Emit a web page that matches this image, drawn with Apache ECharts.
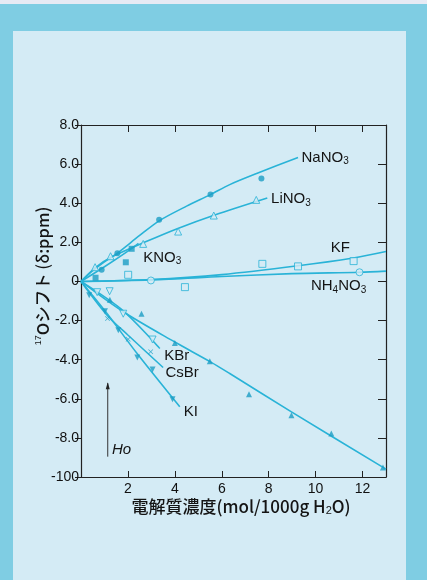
<!DOCTYPE html>
<html><head><meta charset="utf-8">
<script src="https://cdn.jsdelivr.net/npm/echarts@6/dist/echarts.min.js"></script>
<style>html,body{margin:0;padding:0;background:#7fcde3}#c{width:427px;height:580px}</style>
</head><body><div id="c"></div>
<script>
// ---- data ----
const xTicks = [2, 4, 6, 8, 10, 12];
const yTickVals = [8, 6, 4, 2, 0, -2, -4, -6, -8, -10];
const yTickLabels = ['8.0', '6.0', '4.0', '2.0', '0', '-2.0', '-4.0', '-6.0', '-8.0', '-100'];

// measured points
const naNO3Pts = [[0.88, 0.6], [1.55, 1.44], [3.33, 3.15], [5.52, 4.44], [7.69, 5.27]];
const liNO3Pts = [[0.6, 0.73], [1.26, 1.29], [2.65, 1.92], [4.14, 2.55], [5.66, 3.37], [7.47, 4.17]];
const kNO3Pts = [[0.62, 0.19], [1.91, 0.98], [2.16, 1.67]];
const kfPts = [[2.01, 0.34], [4.43, -0.29], [7.73, 0.9], [9.25, 0.77], [11.62, 1.04]];
const nh4NO3Pts = [[2.98, 0.05], [11.87, 0.47]];
const kBrPts = [[0.69, -0.55], [1.22, -0.5], [1.8, -1.65], [3.05, -2.97]];
const csBrPts = [[1.13, -1.9], [2.01, -2.96], [2.97, -3.6]];
const kIPts = [[0.35, -0.71], [1.02, -1.53], [1.59, -2.5], [2.4, -3.89], [3.05, -4.5], [3.9, -6.02]];
const otherPts = [[1.23, -0.93], [2.58, -1.65], [4.0, -3.15], [5.49, -4.08], [7.16, -5.77], [8.97, -6.84], [10.67, -7.77], [12.87, -9.52]];

// fitted curves
const naNO3Line = [[0, 0], [0.5, 0.55], [1, 1.0], [1.55, 1.45], [2.5, 2.35], [3.33, 3.1], [4.5, 3.85], [5.52, 4.44], [6.34, 4.95], [7.62, 5.58], [9.25, 6.34]];
const liNO3Line = [[0, 0], [0.6, 0.7], [1.3, 1.25], [2.7, 2.0], [4.1, 2.7], [5.7, 3.4], [7.94, 4.27]];
const kNO3Line = [[0, 0], [1, 0.75], [2, 1.55], [2.45, 1.95]];
const kfLine = [[0, 0], [3, 0.1], [6, 0.35], [9.25, 0.8], [11.6, 1.2], [13, 1.53]];
const nh4NO3Line = [[0, 0], [3, 0.08], [6, 0.25], [9, 0.4], [11.87, 0.47], [13, 0.53]];
const kBrLine = [[0, 0], [1.8, -1.5], [3.36, -3.43]];
const csBrLine = [[0, 0], [1.13, -1.75], [2.01, -2.75], [3.5, -4.4]];
const kILine = [[0, 0], [1.02, -1.5], [2.4, -3.7], [4.21, -6.41]];
const otherLine = [[0, 0], [1.8, -1.55], [4.0, -3.1], [5.5, -4.1], [6.34, -4.71], [8.97, -6.67], [13, -9.6]];

// labels
const labelNames = ['NaNO{s|3}', 'LiNO{s|3}', 'KNO{s|3}', 'KF', 'NH{s|4}NO{s|3}', 'KBr', 'CsBr', 'KI'];
const labelPos = [[9.4, 6.3], [8.1, 4.2], [2.65, 1.2], [10.65, 1.7], [9.8, -0.25], [3.55, -3.8], [3.6, -4.65], [4.38, -6.65]];

// ---- styles ----
const LINE = '#29b3d7';
const MARK = '#1b9dc4';
const BG = '#d4ebf5';
const downTri = 'path://M0,0 L10,0 L5,9 Z';
const crossSym = 'path://M0,1 L1,0 L5,4 L9,0 L10,1 L6,5 L10,9 L9,10 L5,6 L1,10 L0,9 L4,5 Z';

function lineSeries(data) {
  return { type: 'line', data: data, smooth: 0.3, showSymbol: false, silent: true,
    lineStyle: { color: LINE, width: 1.6 }, z: 2 };
}
function ptSeries(data, symbol, size, hollow) {
  return { type: 'scatter', data: data, symbol: symbol, symbolSize: size, silent: true, z: 3,
    itemStyle: hollow ? { color: BG, borderColor: LINE, borderWidth: 1 } : { color: MARK } };
}
function axLine() { return { show: true, onZero: false, lineStyle: { color: '#222', width: 1.2 } }; }

const chart = echarts.init(document.getElementById('c'), null, { renderer: 'canvas' });
const option = {
  backgroundColor: '#7fcde3',
  animation: false,
  grid: { left: 81, top: 125, right: 41, bottom: 103 },
  xAxis: [
    { type: 'value', min: 0, max: 13, interval: 2, position: 'bottom',
      axisLine: axLine(), splitLine: { show: false },
      axisTick: { show: true, inside: true, length: 6, lineStyle: { color: '#222' } },
      axisLabel: { showMinLabel: false, showMaxLabel: false, color: '#111', fontSize: 14,
        fontFamily: 'Liberation Sans, Arial', margin: 5,
        formatter: v => (xTicks.indexOf(v) >= 0 ? String(v) : '') } },
    { type: 'value', min: 0, max: 13, interval: 2, position: 'top',
      axisLine: axLine(), splitLine: { show: false },
      axisTick: { show: true, inside: true, length: 7, lineStyle: { color: '#222' } },
      axisLabel: { show: false } }
  ],
  yAxis: [
    { type: 'value', min: -10, max: 8, interval: 2, position: 'left',
      axisLine: axLine(), splitLine: { show: false },
      axisTick: { show: true, inside: false, length: 6, lineStyle: { color: '#222' } },
      axisLabel: { color: '#111', fontSize: 14, fontFamily: 'Liberation Sans, Arial', margin: 2,
        formatter: v => { const i = yTickVals.indexOf(v); return i >= 0 ? yTickLabels[i] : ''; } } },
    { type: 'value', min: -10, max: 8, interval: 2, position: 'right',
      axisLine: axLine(), splitLine: { show: false },
      axisTick: { show: true, inside: true, length: 8, lineStyle: { color: '#222' } },
      axisLabel: { show: false } }
  ],
  series: [
    lineSeries(naNO3Line), lineSeries(liNO3Line), lineSeries(kNO3Line), lineSeries(kfLine),
    lineSeries(nh4NO3Line), lineSeries(kBrLine), lineSeries(csBrLine), lineSeries(kILine), lineSeries(otherLine),
    ptSeries(naNO3Pts, 'circle', 6, false),
    ptSeries(liNO3Pts, 'triangle', 7, true),
    ptSeries(kNO3Pts, 'rect', 6, false),
    ptSeries(kfPts, 'rect', 7, true),
    ptSeries(nh4NO3Pts, 'circle', 7, true),
    ptSeries(kBrPts, downTri, 7, true),
    ptSeries(csBrPts, crossSym, 5, false),
    ptSeries(kIPts, downTri, 6, false),
    ptSeries(otherPts, 'triangle', 6, false)
  ]
};
chart.setOption(option);

const P = (x, y) => chart.convertToPixel({ xAxisIndex: 0, yAxisIndex: 0 }, [x, y]);
const lblRich = {
  a: { fontSize: 15, fontFamily: 'Liberation Sans, Arial', fill: '#141414' },
  s: { fontSize: 10, fontFamily: 'Liberation Sans, Arial', fill: '#141414', padding: [7, 0, 0, 0] }
};
const graphics = [
  { type: 'rect', shape: { x: 0, y: 0, width: 427, height: 4 }, style: { fill: '#e7eaf4' }, z: -10, silent: true },
  { type: 'rect', shape: { x: 13, y: 31, width: 393, height: 549 }, style: { fill: BG }, z: -10, silent: true }
];
labelNames.forEach((t, i) => {
  const p = P(labelPos[i][0], labelPos[i][1]);
  const txt = t.replace(/^([^{]+)/, '{a|$1}').replace(/\}([A-Za-z]+)/g, '}{a|$1}');
  graphics.push({ type: 'text', x: p[0], y: p[1], silent: true, z: 10,
    style: { text: txt, rich: lblRich, verticalAlign: 'middle', align: 'left' } });
});
// Ho arrow
const a0 = P(1.14, -8.96), a1 = P(1.14, -5.2);
graphics.push({ type: 'line', shape: { x1: a0[0], y1: a0[1], x2: a1[0], y2: a1[1] }, style: { stroke: '#333', lineWidth: 1 }, z: 10, silent: true });
graphics.push({ type: 'polygon', shape: { points: [[a1[0] - 2, a1[1] + 6], [a1[0] + 2, a1[1] + 6], [a1[0], a1[1] - 1]] }, style: { fill: '#222' }, z: 10, silent: true });
const hp = P(1.32, -8.6);
graphics.push({ type: 'text', x: hp[0], y: hp[1], silent: true, z: 10,
  style: { text: 'Ho', font: 'italic 15px "Liberation Sans", Arial', fill: '#141414', verticalAlign: 'middle' } });
// axis titles
graphics.push({ type: 'text', x: 241, y: 507, silent: true, z: 10,
  style: { text: '電解質濃度(mol/1000g H{s|2}O)'.replace(/^([^{]+)/, '{t|$1}').replace(/\}([^{]+)$/, '}{t|$1}'),
    rich: { t: { fontSize: 17, fontFamily: '"Noto Sans CJK JP", "Liberation Sans"', fontWeight: 500, fill: '#141414' },
            s: { fontSize: 11, fontFamily: '"Liberation Sans"', fill: '#141414', padding: [8, 0, 0, 0] } },
    align: 'center', verticalAlign: 'middle' } });
graphics.push({ type: 'text', x: 43, y: 276, rotation: Math.PI / 2, silent: true, z: 10,
  style: { text: '{s|17}{t|Oシフト (δ:ppm)}',
    rich: { t: { fontSize: 16.5, fontFamily: '"Noto Sans CJK JP", "Liberation Sans"', fontWeight: 500, fill: '#141414' },
            s: { fontSize: 9, fontFamily: '"Liberation Sans"', fill: '#141414', padding: [0, 0, 8, 0] } },
    align: 'center', verticalAlign: 'middle' } });
chart.setOption({ graphic: graphics });
</script></body></html>
